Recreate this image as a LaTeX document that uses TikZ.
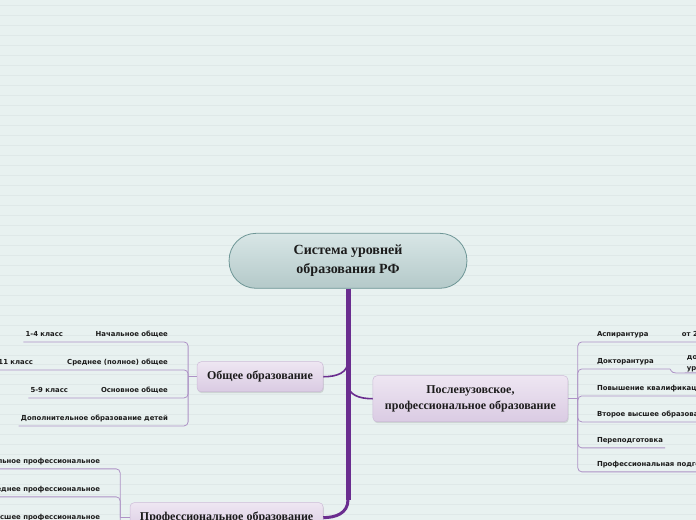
\documentclass[tikz,border=0pt]{standalone}
\usepackage{fontspec}
\setmainfont{Liberation Serif}
\newfontfamily\leaffont{DejaVu Sans}
\usetikzlibrary{backgrounds,shadows}
\definecolor{paper}{HTML}{E8F1F0}
\definecolor{rule}{HTML}{DFE8E8}
\definecolor{trunk}{HTML}{6A2D8F}
\definecolor{twig}{HTML}{AE93C6}
\definecolor{lilac}{HTML}{EEE6F2}
\definecolor{lilacdk}{HTML}{DACBE3}
\definecolor{lilacln}{HTML}{CDBBD8}
\definecolor{sage}{HTML}{D8E6E6}
\definecolor{sagedk}{HTML}{B4C9C9}
\definecolor{sageln}{HTML}{6E9696}
\definecolor{ink}{HTML}{1C1C1C}

\begin{document}
\begin{tikzpicture}[
    x=1pt, y=-1pt,
    root/.style={rectangle, rounded corners=27pt, draw=sageln, line width=0.8pt,
                 top color=sage, bottom color=sagedk, minimum width=238pt, minimum height=55pt,
                 font=\bfseries\fontsize{14}{19}\selectfont, align=center, text=ink},
    topic/.style={rectangle, rounded corners=4pt, draw=lilacln, line width=0.5pt,
                  top color=lilac, bottom color=lilacdk, text=ink, align=center,
                  font=\bfseries\fontsize{12}{16}\selectfont,
                  drop shadow={opacity=0.25, shadow xshift=0.8pt, shadow yshift=-1.5pt}},
    leaf/.style={inner xsep=2pt, inner ysep=0pt, text height=5pt, text depth=5pt,
                 font=\leaffont\bfseries\fontsize{6.9}{10}\selectfont, text=ink},
    leafl/.style={leaf, anchor=base east},
    leafr/.style={leaf, anchor=base west},
    twigline/.style={draw=twig, line width=0.8pt, rounded corners=4pt},
    stem/.style={draw=trunk, line width=5pt},
    branch/.style={draw=trunk, line width=1.6pt},
  ]

  % Hintergrund mit feinen Linien
  \begin{scope}[on background layer]
    \fill[paper] (0,0) rectangle (696,520);
    \foreach \y in {5,15,...,515} \draw[rule, line width=0.5pt] (0,\y) -- (696,\y);
  \end{scope}
  \useasboundingbox (0,0) rectangle (696,520);

  % Hauptthemen
  \node[root] (sys) at (348,261) {Система уровней\\образования РФ};
  \node[topic, minimum width=126pt, minimum height=30pt] (gen) at (260,377) {Общее образование};
  \node[topic, minimum width=195pt, minimum height=46pt] (post) at (470.5,399)
    {Послевузовское,\\профессиональное образование};
  \node[topic, minimum width=193pt, minimum height=30pt] (prof) at (226.5,518) {Профессиональное образование};

  % Stamm und Äste
  \coordinate (j1) at (348,361);
  \coordinate (j2) at (348,384);
  \coordinate (j3) at (348,500);
  \draw[stem] (sys.south) -- (j3);
  \draw[branch] (j1) .. controls +(0,12) and +(14,0) .. (gen.east);
  \draw[branch] (j2) .. controls +(0,11) and +(-14,0) .. (post.west);
  \draw[branch, line width=3pt] (j3) .. controls +(0,14) and +(12,0) .. (prof.east);

  % Общее образование
  \coordinate (gj) at (188,377);
  \draw[twigline] (gen.west) -- (gj);
  \node[leafl] (g1)  at (170,337) {Начальное общее};
  \node[leafl] (g1c) at (65,337)  {1-4 класс};
  \node[leafl] (g2)  at (170,365) {Среднее (полное) общее};
  \node[leafl] (g2c) at (35,365)  {10-11 класс};
  \node[leafl] (g3)  at (170,393) {Основное общее};
  \node[leafl] (g3c) at (70,393)  {5-9 класс};
  \node[leafl] (g4)  at (170,421) {Дополнительное образование детей};
  \draw[twigline] (g1c.south west) -- (g1.south east) -| (gj);
  \draw[twigline] (g2c.south west) -- (g2.south east) -| (gj);
  \draw[twigline] (g3c.south west) -- (g3.south east) -| (gj);
  \draw[twigline] (g4.south west) -- (g4.south east) -| (gj);

  % Послевузовское образование
  \coordinate (pj) at (578,399);
  \draw[twigline] (post.east) -- (pj);
  \node[leafr] (p1)  at (595,337) {Аспирантура};
  \node[leafr] (p1c) at (680,337) {от 2 лет};
  \node[leafr] (p2)  at (595,364) {Докторантура};
  \node[inner xsep=2pt, inner ysep=1pt, anchor=south west, align=left, text=ink,
        font=\leaffont\bfseries\fontsize{6.9}{11}\selectfont] (p2c) at (685,373) {до 3 лет\\уровень};
  \node[leafr] (p3)  at (595,391) {Повышение квалификации};
  \node[leafr] (p4)  at (595,417) {Второе высшее образование};
  \node[leafr] (p5)  at (595,443) {Переподготовка};
  \node[leafr] (p6)  at (595,467) {Профессиональная подготовка};
  \draw[twigline] (pj) |- (p1.south west) -- (p1c.south east);
  \draw[twigline] (pj) |- (p2.south west) -- ++(71,0) [sharp corners]
    .. controls +(5,0) and +(-5,0) .. ++(10,4) -- (p2c.south east);
  \draw[twigline] (pj) |- (p3.south west) -- (p3.south east);
  \draw[twigline] (pj) |- (p4.south west) -- (p4.south east);
  \draw[twigline] (pj) |- (p5.south west) -- (p5.south east);
  \draw[twigline] (pj) |- (p6.south west) -- (p6.south east);

  % Профессиональное образование
  \coordinate (fj) at (120,518);
  \draw[twigline] (prof.west) -- (fj);
  \node[leafl] (f1) at (102,464) {Начальное профессиональное};
  \node[leafl] (f2) at (102,492) {Среднее профессиональное};
  \node[leafl] (f3) at (102,520) {Высшее профессиональное};
  \draw[twigline] (f1.south west) -- (f1.south east) -| (fj);
  \draw[twigline] (f2.south west) -- (f2.south east) -| (fj);
  \draw[twigline] (f3.south west) -- (f3.south east) -| (fj);

\end{tikzpicture}
\end{document}
